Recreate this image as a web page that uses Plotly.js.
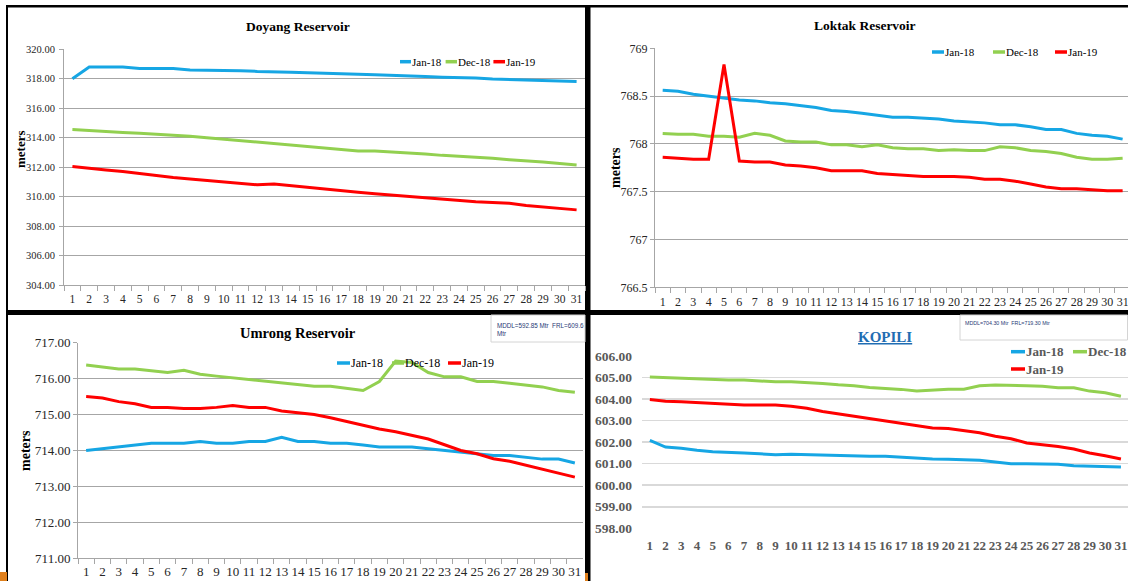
<!DOCTYPE html>
<html>
<head>
<meta charset="utf-8">
<script src="https://cdn.plot.ly/plotly-3.0.1.min.js"></script>
<style>
html,body{margin:0;padding:0;background:#fff;}
#chart{width:1128px;height:581px;}
</style>
</head>
<body>
<div id="chart"></div>
<script>
// ---- data ----
const days = ['1','2','3','4','5','6','7','8','9','10','11','12','13','14','15','16','17','18','19','20','21','22','23','24','25','26','27','28','29','30','31'];
const seriesNames = ['Jan-18','Dec-18','Jan-19'];
const seriesColors = ['#16a6e4','#92d050','#ff0000'];

const doyangJan18 = [318.0,318.8,318.8,318.8,318.7,318.7,318.7,318.6,318.6,318.6,318.55,318.5,318.5,318.45,318.4,318.35,318.3,318.3,318.28,318.25,318.2,318.15,318.1,318.08,318.05,317.98,317.95,317.9,317.85,317.82,317.82];
const doyangDec18 = [314.55,314.5,314.4,314.35,314.3,314.25,314.2,314.1,314.0,313.9,313.8,313.7,313.6,313.55,313.45,313.35,313.25,313.1,313.1,313.05,313.0,312.9,312.8,312.75,312.7,312.6,312.5,312.45,312.35,312.25,312.15];
const doyangJan19 = [312.05,311.9,311.8,311.7,311.55,311.45,311.3,311.2,311.1,311.0,310.9,310.8,310.85,310.75,310.65,310.55,310.45,310.3,310.2,310.1,310.0,309.9,309.85,309.7,309.65,309.6,309.55,309.4,309.3,309.2,309.1];

const loktakJan18 = [768.56,768.55,768.52,768.5,768.48,768.46,768.45,768.43,768.42,768.4,768.38,768.35,768.34,768.32,768.3,768.28,768.28,768.27,768.26,768.24,768.23,768.22,768.2,768.2,768.18,768.15,768.15,768.11,768.09,768.08,768.05];
const loktakDec18 = [768.11,768.1,768.1,768.08,768.08,768.07,768.11,768.09,768.03,768.02,768.02,767.99,767.99,767.97,767.99,767.96,767.95,767.95,767.93,767.94,767.93,767.93,767.97,767.96,767.93,767.92,767.9,767.86,767.84,767.84,767.85];
const loktakJan19 = [767.86,767.85,767.84,767.84,768.83,767.82,767.81,767.81,767.78,767.77,767.75,767.72,767.72,767.72,767.69,767.68,767.67,767.66,767.66,767.66,767.65,767.63,767.63,767.61,767.58,767.55,767.53,767.53,767.52,767.51,767.51];

const umrongJan18 = [714.0,714.05,714.1,714.15,714.2,714.2,714.2,714.25,714.2,714.2,714.25,714.25,714.37,714.25,714.25,714.2,714.2,714.15,714.1,714.1,714.1,714.05,714.0,713.95,713.9,713.86,713.86,713.82,713.76,713.76,713.65];
const umrongDec18 = [716.38,716.32,716.27,716.27,716.22,716.17,716.23,716.12,716.07,716.02,715.97,715.93,715.89,715.84,715.79,715.79,715.74,715.67,715.92,716.49,716.45,716.17,716.05,716.05,715.92,715.92,715.87,715.82,715.77,715.67,715.62];
const umrongJan19 = [715.5,715.46,715.36,715.3,715.2,715.2,715.17,715.17,715.2,715.25,715.2,715.2,715.1,715.05,715.0,714.91,714.8,714.7,714.6,714.52,714.42,714.32,714.16,714.0,713.91,713.77,713.7,713.59,713.49,713.38,713.26];

const kopiliJan18 = [602.08,601.77,601.72,601.62,601.56,601.54,601.5,601.46,601.42,601.44,601.42,601.39,601.36,601.36,601.35,601.35,601.3,601.27,601.22,601.21,601.18,601.16,601.08,601.0,601.0,601.0,600.97,600.91,600.88,600.85,600.85];
const kopiliDec18 = [605.03,605.0,605.0,604.97,604.92,604.89,604.89,604.84,604.8,604.8,604.77,604.72,604.66,604.62,604.54,604.5,604.45,604.37,604.42,604.46,604.46,604.62,604.65,604.65,604.62,604.59,604.53,604.53,604.37,604.29,604.13];
const kopiliJan19 = [603.98,603.9,603.88,603.84,603.78,603.76,603.73,603.73,603.73,603.67,603.57,603.42,603.31,603.2,603.08,602.97,602.85,602.74,602.66,602.63,602.52,602.44,602.27,602.16,601.96,601.88,601.8,601.68,601.5,601.37,601.22];

const panelTitles = ['Doyang Reservoir','Loktak Reservoir','Umrong Reservoir','KOPILI'];
const yTitle = 'meters';
const umrongNote = 'MDDL=592.85 Mtr  FRL=609.6<br>Mtr';
const kopiliNote = 'MDDL=704.30 Mtr  FRL=719.30 Mtr';

// ---- layout helpers ----
const W = 1128, H = 581;
const px = v => v / W;
const py = v => 1 - v / H;
const SERIF = '"Liberation Serif", "Times New Roman", serif';
const SANS = '"Liberation Sans", Arial, sans-serif';

const panels = [
  {series:[doyangJan18,doyangDec18,doyangJan19], xa:'x', ya:'y'},
  {series:[loktakJan18,loktakDec18,loktakJan19], xa:'x2', ya:'y2'},
  {series:[umrongJan18,umrongDec18,umrongJan19], xa:'x3', ya:'y3'},
  {series:[kopiliJan18,kopiliDec18,kopiliJan19], xa:'x4', ya:'y4'}
];

const traces = [];
panels.forEach(p => {
  p.series.forEach((vals, i) => {
    traces.push({
      type:'scatter', mode:'lines', x:days, y:vals,
      name:seriesNames[i], xaxis:p.xa, yaxis:p.ya,
      line:{color:seriesColors[i], width:3}, showlegend:false,
      hoverinfo:'skip'
    });
  });
});

function xCat(domain, range, font, opts) {
  return Object.assign({
    type:'category', domain:domain, range:range, showgrid:false,
    tickmode:'array', tickvals:days, ticktext:days, tickangle:0,
    showline:true, linecolor:'#a6a6a6', linewidth:1,
    ticks:'outside', tickson:'boundaries', ticklen:5, tickcolor:'#a6a6a6',
    tickfont:font, fixedrange:true, ticklabelstandoff:3
  }, opts||{});
}
function yLin(domain, range, dtick, fmt, font, opts) {
  return Object.assign({
    domain:domain, range:range, dtick:dtick, tickformat:fmt,
    showgrid:true, gridcolor:'#a6a6a6', gridwidth:1,
    showline:true, linecolor:'#a6a6a6', linewidth:1,
    ticks:'outside', ticklen:4, tickcolor:'#a6a6a6',
    tickfont:font, zeroline:false, fixedrange:true
  }, opts||{});
}

const fDoyX = {family:SERIF, size:11.5, color:'#262626'};
const fDoyY = {family:SERIF, size:10.5, color:'#262626'};
const fLok = {family:SERIF, size:12, color:'#262626'};
const fUmr = {family:SERIF, size:13, color:'#262626'};
const fKop = {family:SERIF, size:13.5, color:'#595959', weight:'bold'};

const layout = {
  width:W, height:H, autosize:false,
  margin:{l:0,r:0,t:0,b:0,pad:0},
  paper_bgcolor:'#ffffff', plot_bgcolor:'#ffffff',
  showlegend:false,
  xaxis: xCat([px(64),px(585)], [-0.5,30.5], fDoyX, {anchor:'y'}),
  yaxis: yLin([py(285),py(49.3)], [304,320], 2, '.2f', fDoyY, {anchor:'x', ticklabelstandoff:2}),
  xaxis2: xCat([px(655),1], [-0.5,30.35], fLok, {anchor:'y2'}),
  yaxis2: yLin([py(287.3),py(48.3)], [766.5,769], 0.5, '', fLok, {anchor:'x2'}),
  xaxis3: xCat([px(78),px(583)], [-0.5,30.5], fUmr, {anchor:'y3', ticklabelstandoff:1}),
  yaxis3: yLin([py(558.3),py(342.7)], [711,717], 1, '.2f', fUmr, {anchor:'x3'}),
  xaxis4: xCat([px(642),1], [-0.5,30.45], {family:SERIF, size:13, color:'#595959', weight:'bold'},
               {anchor:'y4', showline:false, ticks:'', ticklabelstandoff:8}),
  yaxis4: yLin([py(528.3),py(356)], [598,606], 1, '.2f', fKop,
               {anchor:'x4', showline:false, ticks:'', gridcolor:'#d9d9d9', gridwidth:1.5, ticklabelstandoff:9}),
  shapes:[], annotations:[]
};

// frame & panels
const S = layout.shapes;
S.push({type:'rect', xref:'paper', yref:'paper', layer:'below', x0:px(6), x1:1, y0:0, y1:py(5),
        fillcolor:'#000', line:{width:0}});
const whiteRects = [[8,585,7.5,310],[590.5,1128,7.5,310],[8,585,315,581],[590.5,1128,315,581]];
whiteRects.forEach(r => S.push({type:'rect', xref:'paper', yref:'paper', layer:'below',
  x0:px(r[0]), x1:px(r[1]), y0:py(r[3]), y1:py(r[2]), fillcolor:'#fff', line:{width:0}}));
S.push({type:'rect', xref:'paper', yref:'paper', layer:'below', x0:0, x1:px(7), y0:0, y1:py(572),
        fillcolor:'#e0801c', line:{width:0}});
S.push({type:'rect', xref:'paper', yref:'paper', layer:'below', x0:px(585), x1:px(588), y0:0, y1:py(573),
        fillcolor:'#e0801c', line:{width:0}});
// note boxes
S.push({type:'rect', xref:'paper', yref:'paper', x0:px(491), x1:px(585), y0:py(342), y1:py(315),
        fillcolor:'#fff', line:{color:'#d4d4d4', width:1}});
S.push({type:'rect', xref:'paper', yref:'paper', x0:px(960), x1:px(1127.5), y0:py(340), y1:py(315),
        fillcolor:'#fff', line:{color:'#d4d4d4', width:1}});

const A = layout.annotations;
function txt(x, y, text, font, opts) {
  A.push(Object.assign({xref:'paper', yref:'paper', x:px(x), y:py(y), text:text, showarrow:false,
    font:font, xanchor:'center', yanchor:'middle'}, opts||{}));
}
// titles
txt(297.6, 27, panelTitles[0], {family:SERIF, size:13.5, color:'#000', weight:'bold'});
txt(865, 26, panelTitles[1], {family:SERIF, size:13.5, color:'#000', weight:'bold'});
txt(298, 333, panelTitles[2], {family:SERIF, size:14.5, color:'#000', weight:'bold'});
txt(885, 337, panelTitles[3], {family:SERIF, size:15, color:'#1f6db3', weight:'bold', lineposition:'under'});
// y axis titles
txt(20, 149, yTitle, {family:SERIF, size:13, color:'#000', weight:'bold'}, {textangle:-90});
txt(615, 168, yTitle, {family:SERIF, size:14, color:'#000', weight:'bold'}, {textangle:-90});
txt(25, 451, yTitle, {family:SERIF, size:14, color:'#000', weight:'bold'}, {textangle:-90});
// notes
txt(495, 329, umrongNote, {family:SANS, size:6.3, color:'#1f3a75'},
    {xanchor:'left', align:'left'});
txt(963, 323, kopiliNote, {family:SANS, size:5.3, color:'#1f3a75'},
    {xanchor:'left', align:'left'});

// legends: [sampleStart, textStart, y] per series
const legends = [
  {items:[[400,411,61.7],[445.6,457,61.7],[493.4,505,61.7]], font:{family:SERIF, size:11, color:'#000'}},
  {items:[[932,944,52],[993,1005,52],[1055,1067,52]], font:{family:SERIF, size:11, color:'#000'}},
  {items:[[337,350,363],[392,404,363],[448,461,363]], font:{family:SERIF, size:12, color:'#000'}},
  {items:[[1011,1025,351.7],[1073,1087,351.7],[1011,1025,369]], font:{family:SERIF, size:13, color:'#595959', weight:'bold'}}
];
legends.forEach(lg => {
  lg.items.forEach((it, i) => {
    S.push({type:'line', xref:'paper', yref:'paper', x0:px(it[0]), x1:px(it[1]), y0:py(it[2]), y1:py(it[2]),
            line:{color:seriesColors[i], width:3.5}});
    txt(it[1], it[2], seriesNames[i], lg.font, {xanchor:'left', xshift:-1});
  });
});

Plotly.newPlot('chart', traces, layout, {staticPlot:true, displayModeBar:false});
</script>
</body>
</html>
